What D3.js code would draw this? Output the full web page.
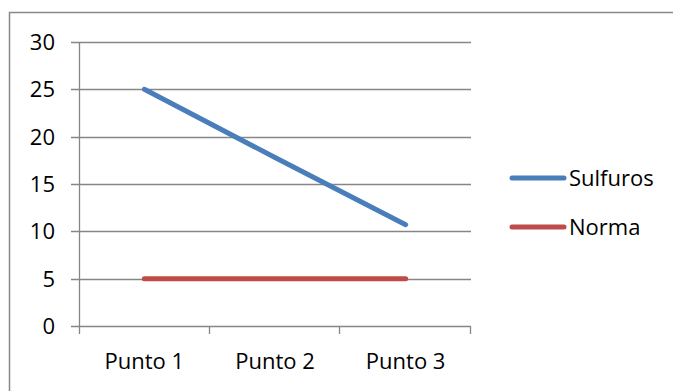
<!DOCTYPE html>
<html>
<head>
<meta charset="utf-8">
<script src="https://cdn.jsdelivr.net/npm/d3@7"></script>
<style>
  html, body { margin: 0; padding: 0; background: #fff; }
  svg text { font-family: "Open Sans", sans-serif; fill: #000; }
</style>
</head>
<body>
<svg id="chart" width="673" height="391"></svg>
<script>
// Data
const categories = ["Punto 1", "Punto 2", "Punto 3"];
const sulfuros = [25, 17.8, 10.7];
const norma = [5, 5, 5];
const yTicks = [0, 5, 10, 15, 20, 25, 30];
const seriesNames = ["Sulfuros", "Norma"];
const seriesColors = ["#4a7ebb", "#be4b48"];

const series = [
  { name: seriesNames[0], values: sulfuros, color: seriesColors[0] },
  { name: seriesNames[1], values: norma, color: seriesColors[1] }
];

const svg = d3.select("#chart");
const gridColor = "#868686";
const fontSize = 22;

// Outer chart frame (runs past the right and bottom edges)
svg.append("rect")
  .attr("x", 9.5).attr("y", 12.5)
  .attr("width", 700).attr("height", 400)
  .attr("fill", "none")
  .attr("stroke", "#888")
  .attr("stroke-width", 1.5);

const plot = { left: 79, right: 471, top: 42, bottom: 326 };

const x = d3.scaleBand()
  .domain(categories)
  .range([plot.left, plot.right])
  .padding(0);

const y = d3.scaleLinear()
  .domain([0, 30])
  .range([plot.bottom, plot.top]);

// Horizontal gridlines with a short tick to the left of the axis
svg.append("g")
  .selectAll("line")
  .data(yTicks)
  .join("line")
  .attr("x1", plot.left - 8)
  .attr("x2", plot.right)
  .attr("y1", d => Math.round(y(d)) + 0.5)
  .attr("y2", d => Math.round(y(d)) + 0.5)
  .attr("stroke", gridColor)
  .attr("stroke-width", 1.3);

// Y axis line
svg.append("line")
  .attr("x1", plot.left + 0.5).attr("x2", plot.left + 0.5)
  .attr("y1", plot.top).attr("y2", plot.bottom + 8)
  .attr("stroke", gridColor)
  .attr("stroke-width", 1.3);

// Category boundary ticks below the baseline
const boundaries = categories.map(c => x(c)).concat([x.range()[1]]);
svg.append("g")
  .selectAll("line")
  .data(boundaries.slice(1))
  .join("line")
  .attr("x1", d => Math.round(d) - 0.5)
  .attr("x2", d => Math.round(d) - 0.5)
  .attr("y1", plot.bottom)
  .attr("y2", plot.bottom + 8)
  .attr("stroke", gridColor)
  .attr("stroke-width", 1.3);

// Y tick labels
svg.append("g")
  .selectAll("text")
  .data(yTicks)
  .join("text")
  .attr("x", 55)
  .attr("y", d => y(d))
  .attr("dy", "0.36em")
  .attr("text-anchor", "end")
  .style("font-size", fontSize + "px")
  .text(d => d);

// Category labels
svg.append("g")
  .selectAll("text")
  .data(categories)
  .join("text")
  .attr("x", d => x(d) + x.bandwidth() / 2)
  .attr("y", 369)
  .attr("text-anchor", "middle")
  .style("font-size", fontSize + "px")
  .text(d => d);

// Series lines
const line = d3.line()
  .x((d, i) => x(categories[i]) + x.bandwidth() / 2)
  .y(d => y(d));

svg.append("g")
  .selectAll("path")
  .data(series.slice().reverse())
  .join("path")
  .attr("d", d => line(d.values))
  .attr("fill", "none")
  .attr("stroke", d => d.color)
  .attr("stroke-width", 5)
  .attr("stroke-linecap", "round")
  .attr("stroke-linejoin", "round");

// Legend
const legend = svg.append("g")
  .selectAll("g")
  .data(series)
  .join("g")
  .attr("transform", (d, i) => `translate(0, ${178 + i * 49})`);

legend.append("line")
  .attr("x1", 512).attr("x2", 564)
  .attr("y1", 0).attr("y2", 0)
  .attr("stroke", d => d.color)
  .attr("stroke-width", 5)
  .attr("stroke-linecap", "round");

legend.append("text")
  .attr("x", 569)
  .attr("y", 0)
  .attr("dy", "0.36em")
  .style("font-size", fontSize + "px")
  .text(d => d.name);
</script>
</body>
</html>
